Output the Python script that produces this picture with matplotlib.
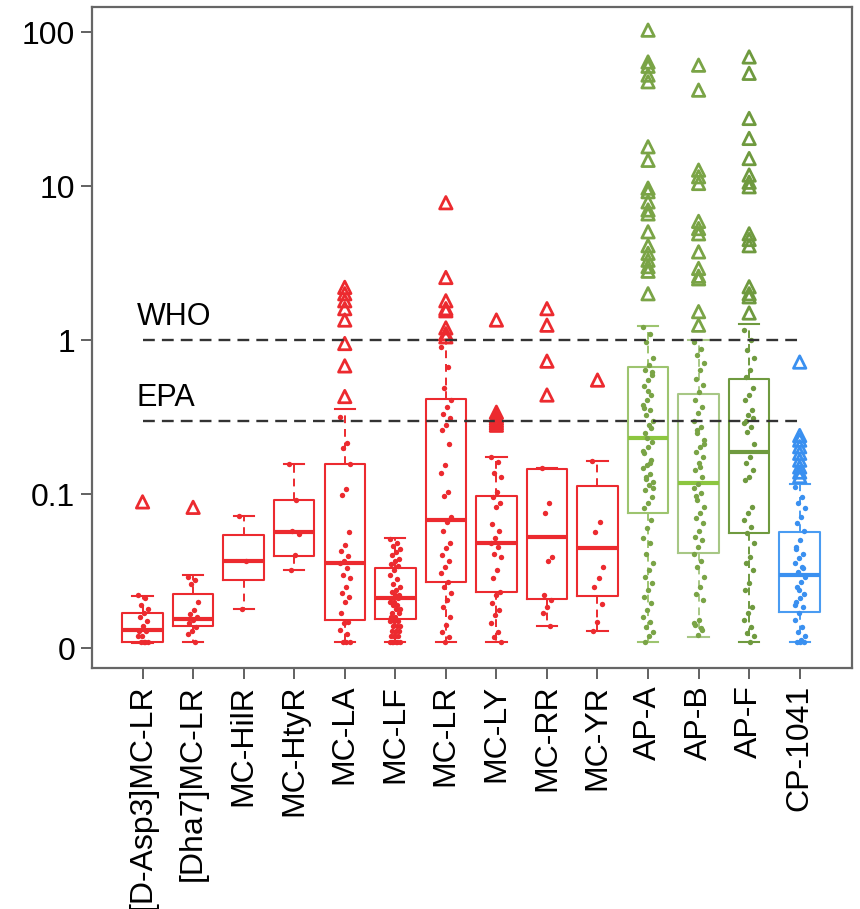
import numpy as np
import matplotlib
matplotlib.use("Agg")
import matplotlib.pyplot as plt

plt.rcParams['font.family'] = ['Liberation Sans', 'DejaVu Sans']

labels = ['[D-Asp3]MC-LR', '[Dha7]MC-LR', 'MC-HilR', 'MC-HtyR', 'MC-LA', 'MC-LF',
          'MC-LR', 'MC-LY', 'MC-RR', 'MC-YR', 'AP-A', 'AP-B', 'AP-F', 'CP-1041']

# box summary (ug/L): lower whisker, q1, median, q3, upper whisker
whislo = [0.0108, 0.0109, 0.018, 0.032, 0.0109, 0.011, 0.011, 0.011, 0.0139, 0.0129, 0.011, 0.0118, 0.011, 0.011]
q1 = [0.0109, 0.0139, 0.0277, 0.0395, 0.0152, 0.0154, 0.0269, 0.0233, 0.0208, 0.0218, 0.0753, 0.0414, 0.0557, 0.0171]
med = [0.0131, 0.0154, 0.0367, 0.0567, 0.0357, 0.0211, 0.0678, 0.0482, 0.0526, 0.0446, 0.231, 0.118, 0.187, 0.0298]
q3 = [0.0169, 0.0224, 0.0545, 0.0914, 0.157, 0.033, 0.414, 0.097, 0.145, 0.113, 0.667, 0.446, 0.558, 0.0567]
whishi = [0.0218, 0.0298, 0.072, 0.157, 0.356, 0.0517, 1.0, 0.174, 0.147, 0.164, 1.23, 1.0, 1.27, 0.116]

# outliers (triangles)
out_asp3 = [0.089]
out_dha7 = [0.082]
out_hilr = []
out_htyr = []
out_la = [2.2, 2.0, 1.8, 1.6, 1.35, 0.95, 0.68, 0.43]
out_lf = []
out_lr = [7.8, 2.55, 1.8, 1.6, 1.55, 1.2, 1.1, 1.05]
out_ly = [1.35, 0.34, 0.32, 0.31, 0.30, 0.29, 0.28]
out_rr = [1.6, 1.25, 0.73, 0.44]
out_yr = [0.55]
out_apa = [103, 64, 60, 52.6, 47.6, 18.0, 14.7, 9.7, 9.2, 7.9, 7.0, 6.6, 5.05, 4.1, 3.66, 3.3, 3.0, 2.8, 2.0]
out_apb = [61, 42, 12.7, 11.5, 10.4, 5.9, 5.3, 4.9, 3.74, 2.92, 2.6, 2.5, 1.53, 1.25]
out_apf = [69, 54, 27.5, 20.4, 15.1, 11.8, 10.6, 9.9, 4.9, 4.5, 4.1, 2.22, 2.0, 1.91, 1.5]
out_cp = [0.72, 0.24, 0.224, 0.203, 0.184, 0.166, 0.150, 0.139, 0.130]

# individual samples (dots)
pts_asp3 = [0.022, 0.021, 0.019, 0.018, 0.017, 0.016, 0.015, 0.014, 0.013, 0.013,
            0.012, 0.012, 0.011, 0.011, 0.011, 0.011]
pts_dha7 = [0.029, 0.0275, 0.026, 0.020, 0.0177, 0.0167, 0.0159, 0.0152, 0.0145,
            0.0137, 0.013, 0.0123, 0.011]
pts_hilr = [0.072, 0.037, 0.018]
pts_htyr = [0.157, 0.091, 0.058, 0.055, 0.040, 0.032]
pts_la = [0.318, 0.215, 0.200, 0.157, 0.108, 0.0985, 0.0567, 0.0465, 0.043, 0.0398,
          0.037, 0.0357, 0.033, 0.030, 0.0284, 0.025, 0.0228, 0.0215, 0.020, 0.0169,
          0.0148, 0.0145, 0.0131, 0.0123, 0.011, 0.011, 0.011]
pts_lf = [0.051, 0.048, 0.046, 0.044, 0.042, 0.040, 0.038, 0.037, 0.035, 0.034,
          0.032, 0.030, 0.028, 0.026, 0.025, 0.024, 0.023, 0.022, 0.022, 0.021,
          0.021, 0.020, 0.020, 0.019, 0.019, 0.018, 0.018, 0.017, 0.017, 0.016,
          0.016, 0.015, 0.015, 0.015, 0.014, 0.014, 0.014, 0.013, 0.013, 0.013,
          0.012, 0.012, 0.012, 0.012, 0.011, 0.011, 0.011, 0.011, 0.011, 0.011]
pts_lr = [0.9, 0.67, 0.49, 0.41, 0.365, 0.33, 0.31, 0.28, 0.26, 0.21, 0.155, 0.137,
          0.103, 0.097, 0.071, 0.0655, 0.058, 0.048, 0.0445, 0.040, 0.037, 0.0335,
          0.0305, 0.027, 0.025, 0.0228, 0.0206, 0.0186, 0.016, 0.0141, 0.0128,
          0.0118, 0.011]
pts_ly = [0.174, 0.162, 0.137, 0.13, 0.103, 0.096, 0.088, 0.083, 0.064, 0.058,
          0.052, 0.048, 0.045, 0.041, 0.039, 0.032, 0.0284, 0.0233, 0.0222, 0.0196,
          0.0177, 0.0164, 0.0145, 0.0128, 0.0118, 0.011]
pts_rr = [0.147, 0.088, 0.0755, 0.039, 0.037, 0.0222, 0.0206, 0.0186, 0.0169, 0.0139]
pts_yr = [0.164, 0.0655, 0.0565, 0.0335, 0.0284, 0.025, 0.0194, 0.0148, 0.0129]
pts_apa = [1.22, 1.10, 0.975, 0.76, 0.69, 0.64, 0.59, 0.55, 0.50, 0.44, 0.41, 0.38,
           0.35, 0.326, 0.30, 0.28, 0.248, 0.219, 0.203, 0.184, 0.166, 0.154, 0.147,
           0.136, 0.130, 0.120, 0.114, 0.106, 0.096, 0.087, 0.081, 0.068, 0.060,
           0.0515, 0.048, 0.041, 0.0355, 0.032, 0.029, 0.0263, 0.0238, 0.0216,
           0.0195, 0.0177, 0.016, 0.0148, 0.0138, 0.0128, 0.0119, 0.011, 0.62,
           0.47, 0.36, 0.27, 0.23, 0.19, 0.16, 0.125, 0.110]
pts_apb = [0.975, 0.88, 0.80, 0.705, 0.64, 0.56, 0.51, 0.46, 0.41, 0.37, 0.334,
           0.30, 0.273, 0.248, 0.224, 0.203, 0.188, 0.175, 0.158, 0.143, 0.130,
           0.117, 0.109, 0.101, 0.091, 0.083, 0.075, 0.0695, 0.0645, 0.058, 0.053,
           0.050, 0.0455, 0.041, 0.037, 0.0337, 0.029, 0.025, 0.0226, 0.0205,
           0.0152, 0.0141, 0.0131, 0.0121, 0.0145, 0.0135, 0.26, 0.21, 0.15, 0.097]
pts_apf = [1.16, 1.0, 0.86, 0.76, 0.64, 0.58, 0.485, 0.44, 0.41, 0.35, 0.326, 0.288,
           0.273, 0.254, 0.213, 0.175, 0.158, 0.143, 0.130, 0.123, 0.083, 0.075,
           0.068, 0.061, 0.0555, 0.048, 0.039, 0.0355, 0.032, 0.0263, 0.0238,
           0.0185, 0.0168, 0.0152, 0.0138, 0.0125, 0.0119, 0.011, 0.30, 0.31]
pts_cp = [0.112, 0.096, 0.087, 0.081, 0.071, 0.0645, 0.058, 0.050, 0.0443, 0.041,
          0.0382, 0.0355, 0.0337, 0.0313, 0.029, 0.027, 0.025, 0.0226, 0.021, 0.020,
          0.0185, 0.0168, 0.0152, 0.0138, 0.0128, 0.0119, 0.0113, 0.011, 0.011,
          0.011, 0.045, 0.033, 0.024, 0.019]

points = [pts_asp3, pts_dha7, pts_hilr, pts_htyr, pts_la, pts_lf, pts_lr, pts_ly,
          pts_rr, pts_yr, pts_apa, pts_apb, pts_apf, pts_cp]
outliers = [out_asp3, out_dha7, out_hilr, out_htyr, out_la, out_lf, out_lr, out_ly,
            out_rr, out_yr, out_apa, out_apb, out_apf, out_cp]

red = '#ec2a2f'
box_col = [red] * 10 + ['#9dc46f', '#a7c785', '#6f9a3f', '#4a9cf2']
med_col = [red] * 10 + ['#8cc63f', '#8cc63f', '#6f9a3f', '#3a90f0']
pt_col = [red] * 10 + ['#7aa446', '#7aa446', '#6f9a3f', '#3a90f0']

fig = plt.figure(figsize=(8.6, 9.09), dpi=100)
ax = fig.add_axes([0.107, 0.265, 0.884, 0.727])
ax.set_yscale('log')

for i in range(len(labels)):
    pos = i + 1
    st = [dict(med=med[i], q1=q1[i], q3=q3[i], whislo=whislo[i], whishi=whishi[i], fliers=[])]
    c = box_col[i]
    ax.bxp(st, positions=[pos], widths=0.8, capwidths=0.4, showfliers=False,
           boxprops=dict(color=c, lw=1.5),
           medianprops=dict(color=med_col[i], lw=3),
           whiskerprops=dict(color=c, lw=1.4, linestyle=(0, (4, 3))),
           capprops=dict(color=c, lw=1.5))
    n = len(points[i])
    jit = [((k * 7) % 11 - 5) / 5 * 0.1 for k in range(n)]
    ax.scatter(np.full(n, pos) + jit, points[i], s=15, color=pt_col[i], zorder=3, linewidths=0)
    if outliers[i]:
        m = len(outliers[i])
        ax.scatter(np.full(m, pos), outliers[i], marker='^', s=80, facecolors='none',
                   edgecolors=pt_col[i], linewidths=2.0, zorder=3)

# guideline values
ax.hlines([1.0, 0.3], 1, 14, colors='#333333', linestyles=(0, (5, 3)), lw=1.7, zorder=4)
ax.text(0.88, 1.13, 'WHO', fontsize=22, va='bottom', ha='left')
ax.text(0.88, 0.335, 'EPA', fontsize=22, va='bottom', ha='left')

ax.set_xlim(0, 15.04)
ax.set_ylim(0.00741, 145)
ax.set_yticks([0.01, 0.1, 1, 10, 100])
ax.set_yticklabels(['0', '0.1', '1', '10', '100'])
ax.yaxis.set_minor_locator(matplotlib.ticker.NullLocator())
ax.set_xticks(range(1, 15))
ax.set_xticklabels(labels, rotation=90)
ax.tick_params(labelsize=23, length=8, width=1.3, color='#555555', pad=4)
for sp in ax.spines.values():
    sp.set_color('#666666')
    sp.set_linewidth(1.6)

fig.savefig('out.png', dpi=100)
